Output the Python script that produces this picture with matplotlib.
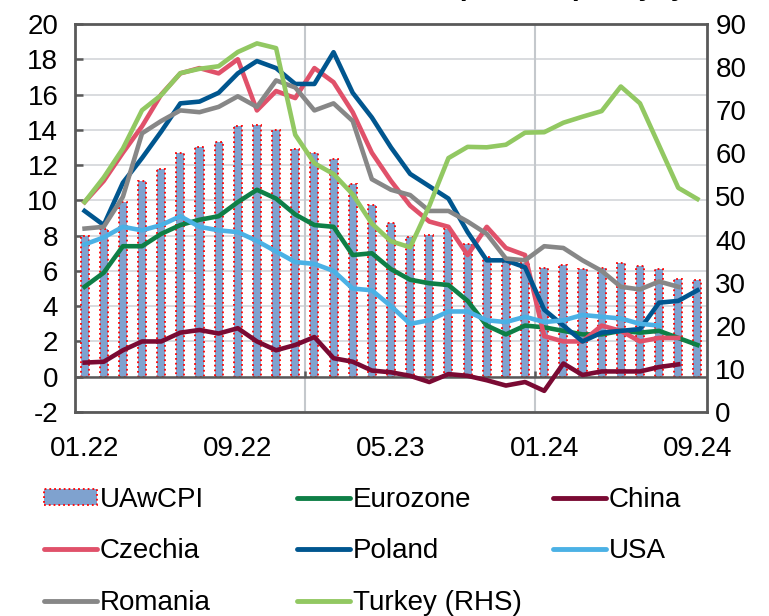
import numpy as np
import matplotlib as mpl
mpl.use("Agg")
import matplotlib.pyplot as plt
from matplotlib.patches import Patch
from matplotlib.lines import Line2D

mpl.rcParams.update({
    "font.family": "sans-serif",
    "font.sans-serif": ["Liberation Sans", "DejaVu Sans"],
    "font.size": 20,
    "axes.unicode_minus": False,
})

nan = np.nan

# monthly, 01.22 .. 09.24
tick_pos = [0, 8, 16, 24, 32]
tick_labels = ["01.22", "09.22", "05.23", "01.24", "09.24"]
year_breaks = [11.5, 23.5]

uawcpi = [8.0, 8.4, 9.9, 11.1, 11.8, 12.7, 13.0, 13.3, 14.2, 14.3, 14.0, 12.9,
          12.7, 12.35, 10.9, 9.75, 8.7, 7.95, 8.05, 8.4, 7.55, 6.8, 6.5, 6.45,
          6.15, 6.35, 6.1, 6.15, 6.45, 6.25, 6.1, 5.55, 5.5]
eurozone = [5.1, 5.9, 7.4, 7.4, 8.1, 8.6, 8.9, 9.1, 9.9, 10.6, 10.1, 9.2,
            8.6, 8.5, 6.9, 7.0, 6.1, 5.5, 5.3, 5.2, 4.3, 2.9, 2.4, 2.9,
            2.8, 2.6, 2.4, 2.4, 2.6, 2.5, 2.6, 2.2, 1.8]
china = [0.8, 0.85, 1.5, 2.0, 2.0, 2.5, 2.65, 2.45, 2.75, 2.0, 1.5, 1.8,
         2.25, 1.05, 0.85, 0.35, 0.25, 0.05, -0.3, 0.15, 0.05, -0.2, -0.5, -0.3,
         -0.8, 0.75, 0.1, 0.3, 0.3, 0.3, 0.55, 0.7, nan]
czechia = [9.9, 11.1, 12.7, 14.2, 16.0, 17.2, 17.5, 17.2, 18.0, 15.1, 16.2, 15.8,
           17.5, 16.7, 15.0, 12.7, 11.1, 9.7, 8.8, 8.5, 6.9, 8.5, 7.3, 6.9,
           2.3, 2.0, 2.0, 2.9, 2.6, 2.0, 2.2, 2.2, nan]
poland = [9.4, 8.6, 11.0, 12.4, 13.9, 15.5, 15.6, 16.1, 17.2, 17.9, 17.5, 16.6,
          16.6, 18.4, 16.1, 14.7, 13.0, 11.5, 10.8, 10.1, 8.2, 6.6, 6.6, 6.2,
          3.8, 2.9, 2.0, 2.5, 2.6, 2.7, 4.2, 4.3, 4.9]
usa = [7.5, 7.9, 8.5, 8.3, 8.6, 9.1, 8.5, 8.3, 8.2, 7.7, 7.1, 6.5,
       6.4, 6.0, 5.0, 4.9, 4.0, 3.0, 3.2, 3.7, 3.7, 3.2, 3.1, 3.4,
       3.1, 3.2, 3.5, 3.4, 3.3, 3.0, 2.9, nan, nan]
romania = [8.4, 8.5, 10.2, 13.8, 14.5, 15.1, 15.0, 15.3, 15.9, 15.3, 16.8, 16.4,
           15.1, 15.5, 14.5, 11.2, 10.6, 10.3, 9.4, 9.4, 8.8, 8.1, 6.7, 6.6,
           7.4, 7.3, 6.6, 6.0, 5.1, 4.95, 5.4, 5.1, nan]
turkey = [48.7, 54.4, 61.1, 70.0, 73.5, 78.6, 79.6, 80.2, 83.5, 85.5, 84.4, 64.3,
          57.7, 55.2, 50.5, 43.7, 39.6, 38.2, 47.8, 58.9, 61.5, 61.4, 62.0, 64.8,
          64.9, 67.1, 68.5, 69.8, 75.5, 71.6, 61.8, 52.0, 49.4]

C_BAR = "#7fa2cf"
C_EZ = "#0e7f46"
C_CN = "#7a0a33"
C_CZ = "#e0516a"
C_PL = "#00568f"
C_US = "#4bb1e5"
C_RO = "#878787"
C_TR = "#92c862"
C_AX = "#595959"
C_GRID = "#d3d6d9"

x = np.arange(len(uawcpi))

fig = plt.figure(figsize=(7.69, 6.16), dpi=100)
ax = fig.add_axes([75 / 769, 1 - 412 / 616, 632 / 769, 388 / 616])

ax.bar(x, uawcpi, width=0.42, color=C_BAR, edgecolor="red", linestyle=":",
       linewidth=1.3, zorder=2)

lw = 3.3
ax.plot(x, eurozone, color=C_EZ, lw=lw, zorder=3)
ax.plot(x, china, color=C_CN, lw=lw, zorder=3)
ax.plot(x, czechia, color=C_CZ, lw=lw, zorder=3)
ax.plot(x, poland, color=C_PL, lw=lw, zorder=3)
ax.plot(x, usa, color=C_US, lw=lw, zorder=3)
ax.plot(x, romania, color=C_RO, lw=lw, zorder=3)

ax.set_xlim(-0.5, len(x) - 0.5)
ax.set_ylim(-2, 20)
ax.set_yticks(np.arange(-2, 21, 2))
ax.set_axisbelow(True)
ax.yaxis.grid(True, color=C_GRID, lw=1.2)
for b in year_breaks:
    ax.axvline(b, color="#c4c8cc", lw=1.5, zorder=1)
ax.axhline(0, color=C_AX, lw=1.8, zorder=2.5)
ax.vlines(year_breaks, 0, 0.3, color=C_AX, lw=1.8, zorder=2.5)

ax.set_xticks(tick_pos)
ax.set_xticklabels(tick_labels)
ax.tick_params(axis="x", length=0, pad=17.5)
ax.tick_params(axis="y", direction="in", length=6, width=1.8, color=C_AX, pad=12)
for s in ax.spines.values():
    s.set_color(C_AX)
    s.set_linewidth(2)

ax2 = ax.twinx()
ax2.plot(x, turkey, color=C_TR, lw=lw, zorder=3)
ax2.set_ylim(0, 90)
ax2.set_yticks(np.arange(0, 91, 10))
ax2.tick_params(axis="y", length=0, pad=6)
for s in ax2.spines.values():
    s.set_visible(False)

# title, mostly cut off by the top edge in the source
fig.text(341 / 769, 1 + 5 / 616, "Inflation (UAwCPI),  % yoy", fontsize=20,
         fontweight="bold", ha="left", va="baseline")

bar_h = Patch(facecolor=C_BAR, edgecolor="red", linestyle=":", linewidth=1.3)
def ln(c):
    return Line2D([], [], color=c, lw=3.5, solid_capstyle="round")

cols = [
    ([bar_h, ln(C_CZ), ln(C_RO)], ["UAwCPI", "Czechia", "Romania"], 44),
    ([ln(C_EZ), ln(C_PL), ln(C_TR)], ["Eurozone", "Poland", "Turkey (RHS)"], 297),
    ([ln(C_CN), ln(C_US)], ["China", "USA"], 553),
]
for handles, labels, xpx in cols:
    fig.legend(handles, labels, loc="upper left",
               bbox_to_anchor=(xpx / 769, 1 - 487 / 616),
               frameon=False, borderpad=0, borderaxespad=0,
               handlelength=1.9, handleheight=0.5, handletextpad=0.1,
               labelspacing=0.91, fontsize=20)

fig.savefig("out.png", dpi=100)
